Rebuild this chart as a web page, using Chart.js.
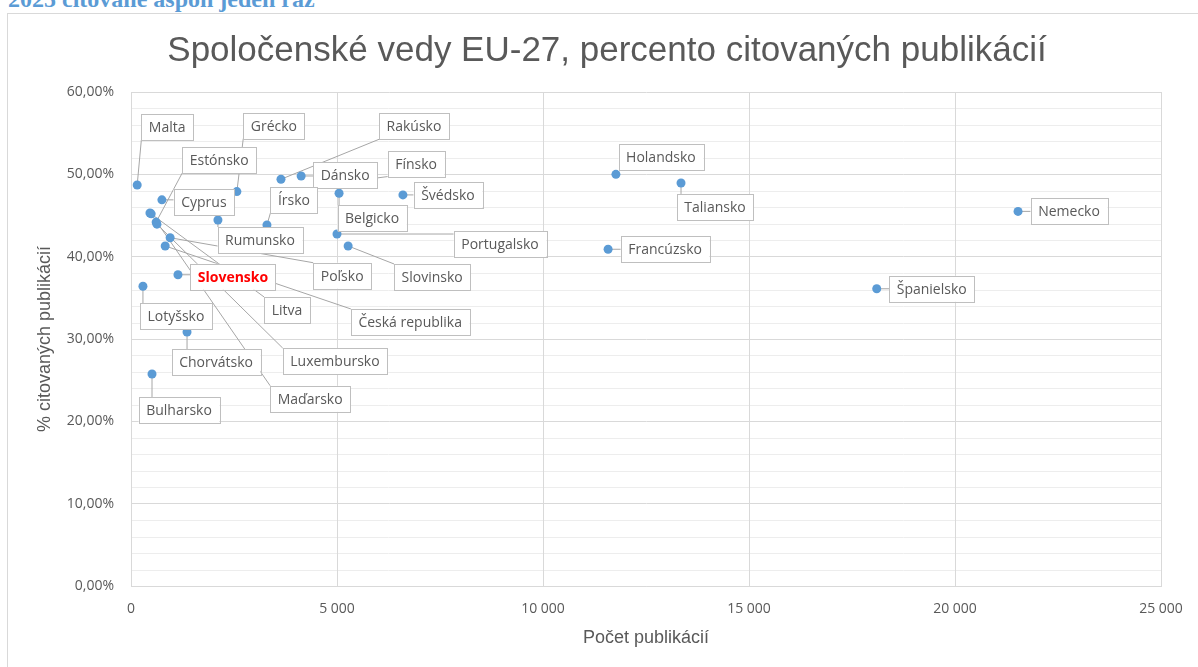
<!DOCTYPE html>
<html lang="sk">
<head>
<meta charset="utf-8">
<script src="https://cdn.jsdelivr.net/npm/chart.js@4.4.1/dist/chart.umd.min.js"></script>
<style>
    body { margin: 0; background: #fff; overflow: hidden; }
    .doc-head {
        position: absolute; left: 8px; top: -13px; margin: 0;
        font: bold 24px/24px "Liberation Serif", serif; color: #5b9bd5; white-space: nowrap;
    }
    .chart-box {
        position: absolute; left: 7px; top: 13px; width: 1198px; height: 653px;
        border-left: 1px solid #d9d9d9; border-top: 1px solid #d9d9d9;
    }
</style>
</head>
<body>
<p class="doc-head">2025 citované aspoň jeden raz</p>
<div class="chart-box"><canvas id="citChart" width="1198" height="653"></canvas></div>
<script>
// ================= Data =================
const countries = [
    "Malta", "Grécko", "Rakúsko", "Dánsko", "Fínsko", "Belgicko", "Švédsko",
    "Holandsko", "Taliansko", "Nemecko", "Cyprus", "Rumunsko", "Írsko",
    "Portugalsko", "Slovinsko", "Francúzsko", "Poľsko", "Česká republika",
    "Litva", "Maďarsko", "Estónsko", "Luxembursko", "Slovensko", "Lotyšsko",
    "Španielsko", "Chorvátsko", "Bulharsko"
];
const publications = [
    150, 2570, 3640, 4130, 5100, 5050, 6600,
    11770, 13350, 21530, 750, 2110, 3300,
    5000, 5270, 11580, 950, 830,
    460, 490, 610, 630, 1140, 290,
    18100, 1360, 510
];
const citedPercent = [
    48.7, 47.9, 49.4, 49.8, 49.0, 47.7, 47.5,
    50.0, 48.95, 45.5, 46.9, 44.45, 43.85,
    42.75, 41.3, 40.9, 42.3, 41.3,
    45.3, 45.2, 44.2, 43.95, 37.8, 36.4,
    36.1, 30.85, 25.75
];
const xTickValues = [0, 5000, 10000, 15000, 20000, 25000];
const yTickValues = [0, 10, 20, 30, 40, 50, 60];

// label box centre, relative to its point (px)
const labelOffsets = [
    [30, -58], [37, -66], [133, -53], [44, -1], [75, -19], [33, 25], [45, 0],
    [45, -17], [34, 24], [51, 0], [42, 2], [42, 20], [27, -25],
    [163, 10], [84, 31], [57, 0], [172, 38], [245, 76],
    [137, 97], [159, 185], [63, -62], [178, 137], [55, 2], [33, 30],
    [55, 0], [29, 30], [27, 36]
];
const highlight = "Slovensko";

const TEXT = "#595959";
const FONT = '"Open Sans", "Noto Sans", sans-serif';
const SANS = '"Liberation Sans", Arial, sans-serif';

// ================= Plugins =================
const minorGrid = {
    id: "minorGrid",
    beforeDraw(chart) {
        const { ctx, chartArea, scales } = chart;
        ctx.save();
        ctx.strokeStyle = "#ededed";
        ctx.lineWidth = 1;
        for (let v = 2; v < 60; v += 2) {
            if (v % 10 === 0) continue;
            const y = Math.round(scales.y.getPixelForValue(v)) + 0.5;
            ctx.beginPath();
            ctx.moveTo(chartArea.left, y);
            ctx.lineTo(chartArea.right, y);
            ctx.stroke();
        }
        ctx.restore();
    }
};

function labelBoxes(chart) {
    const { ctx } = chart;
    const meta = chart.getDatasetMeta(0);
    return countries.map((name, i) => {
        const pt = meta.data[i];
        ctx.font = (name === highlight ? "bold " : "") + "14px " + FONT;
        const w = ctx.measureText(name).width + 15;
        const h = 26;
        const cx = pt.x + labelOffsets[i][0];
        const cy = pt.y + labelOffsets[i][1];
        return { name, px: pt.x, py: pt.y, x: cx - w / 2, y: cy - h / 2, w, h, cx, cy };
    });
}

const dataLabels = {
    id: "dataLabels",
    beforeDatasetsDraw(chart) {
        const { ctx } = chart;
        ctx.save();
        ctx.strokeStyle = "#a6a6a6";
        ctx.lineWidth = 1;
        labelBoxes(chart).forEach(b => {
            const ax = Math.min(Math.max(b.px, b.x), b.x + b.w);
            const ay = Math.min(Math.max(b.py, b.y), b.y + b.h);
            if (Math.hypot(ax - b.px, ay - b.py) < 6) return;
            ctx.beginPath();
            ctx.moveTo(b.px, b.py);
            ctx.lineTo(ax, ay);
            ctx.stroke();
        });
        ctx.restore();
    },
    afterDatasetsDraw(chart) {
        const { ctx } = chart;
        ctx.save();
        labelBoxes(chart).forEach(b => {
            ctx.fillStyle = "#ffffff";
            ctx.strokeStyle = "#bfbfbf";
            ctx.lineWidth = 1;
            ctx.fillRect(b.x, b.y, b.w, b.h);
            ctx.strokeRect(Math.round(b.x) + 0.5, Math.round(b.y) + 0.5, Math.round(b.w), b.h);
            const hi = b.name === highlight;
            ctx.font = (hi ? "bold " : "") + "14px " + FONT;
            ctx.fillStyle = hi ? "#ff0000" : TEXT;
            ctx.textAlign = "center";
            ctx.textBaseline = "middle";
            ctx.fillText(b.name, b.cx, b.cy + 1);
        });
        // chart title
        ctx.font = "35px " + SANS;
        ctx.fillStyle = TEXT;
        ctx.textAlign = "center";
        ctx.textBaseline = "alphabetic";
        ctx.fillText("Spoločenské vedy EU-27, percento citovaných publikácií", chart.width / 2, 47);
        ctx.restore();
    }
};

// ================= Scatter =================
const points = publications.map((p, i) => ({ x: p, y: citedPercent[i] }));

new Chart(document.getElementById("citChart"), {
    type: "scatter",
    data: {
        datasets: [{
            data: points,
            backgroundColor: "#5b9bd5",
            borderWidth: 0,
            pointRadius: 4.5,
            pointHoverRadius: 4.5
        }]
    },
    options: {
        responsive: false,
        animation: false,
        events: [],
        layout: { padding: { top: 78, right: 45, left: 0, bottom: 0 } },
        plugins: {
            legend: { display: false },
            tooltip: { enabled: false }
        },
        scales: {
            x: {
                type: "linear",
                min: xTickValues[0],
                max: xTickValues[xTickValues.length - 1],
                afterBuildTicks: scale => { scale.ticks = xTickValues.map(v => ({ value: v })); },
                afterFit: scale => { scale.height = 81; },
                ticks: {
                    color: TEXT,
                    padding: 15,
                    maxRotation: 0,
                    font: { family: FONT, size: 14 },
                    callback: v => String(v).replace(/\B(?=(\d{3})+(?!\d))/g, " ")
                },
                grid: { color: "#d9d9d9", drawTicks: false },
                border: { color: "#d9d9d9" },
                title: {
                    display: true,
                    text: "Počet publikácií",
                    color: TEXT,
                    font: { family: SANS, size: 18 },
                    padding: { top: 0, bottom: 18 }
                }
            },
            y: {
                min: yTickValues[0],
                max: yTickValues[yTickValues.length - 1],
                afterBuildTicks: scale => { scale.ticks = yTickValues.map(v => ({ value: v })); },
                afterFit: scale => { scale.width = 123; },
                ticks: {
                    color: TEXT,
                    padding: 17,
                    font: { family: FONT, size: 14 },
                    callback: v => v.toFixed(2).replace(".", ",") + "%"
                },
                grid: { color: "#d9d9d9", drawTicks: false },
                border: { color: "#d9d9d9" },
                title: {
                    display: true,
                    text: "% citovaných publikácií",
                    color: TEXT,
                    font: { family: SANS, size: 18 },
                    padding: { top: 26, bottom: 0 }
                }
            }
        }
    },
    plugins: [minorGrid, dataLabels]
});
</script>
</body>
</html>
